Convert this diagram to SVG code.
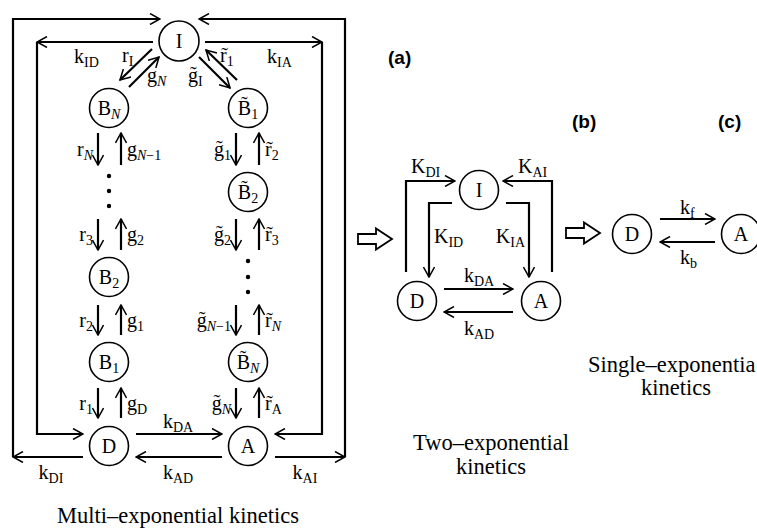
<svg xmlns="http://www.w3.org/2000/svg" width="757" height="529" viewBox="0 0 757 529">
<defs>
<marker id="ah" viewBox="0 0 12 12" markerWidth="12" markerHeight="12" refX="11" refY="6" markerUnits="userSpaceOnUse" orient="auto">
<path d="M1,0.5 L11,6 L1,11.5" fill="none" stroke="#000" stroke-width="1.5"/>
</marker>
<style>
.ln{fill:none;stroke:#000;stroke-width:2.2;marker-end:url(#ah)}
.nd{fill:#fff;stroke:#000;stroke-width:1.6}
.t{font-family:"Liberation Serif","Times New Roman",serif;font-size:20px;fill:#000}
.m{text-anchor:middle}
.e{text-anchor:end}
.s{font-size:14px}
.i{font-style:italic}
.cap{font-family:"Liberation Serif","Times New Roman",serif;font-size:22.5px;fill:#000}
.lab{font-family:"Liberation Sans",Arial,sans-serif;font-weight:bold;font-size:19px;fill:#000}
.hol{fill:#fff;stroke:#000;stroke-width:1.8}
.dot{fill:#000}
</style>
</defs>
<rect width="757" height="529" fill="#fff"/>

<g id="connectors">
<!-- part a frames -->
<path class="ln" d="M83,457 H13"/>
<path class="ln" d="M13,457 V19 H160"/>
<path class="ln" d="M275,457 H345"/>
<path class="ln" d="M345,457 V19 H199"/>
<path class="ln" d="M153,42 H37"/>
<path class="ln" d="M37,42 V434 H83"/>
<path class="ln" d="M205,42 H322"/>
<path class="ln" d="M322,42 V434 H275"/>
<path class="ln" d="M136,434 H222"/>
<path class="ln" d="M222,457 H136"/>
<!-- diagonals -->
<path class="ln" d="M152,49 L120,80"/>
<path class="ln" d="M129,87 L159,57"/>
<path class="ln" d="M199,57 L230,88"/>
<path class="ln" d="M237,80 L206,50"/>
<!-- left column -->
<path class="ln" d="M98,133 V165"/>
<path class="ln" d="M121,165 V133"/>
<path class="ln" d="M98,219 V250"/>
<path class="ln" d="M121,250 V219"/>
<path class="ln" d="M98,305 V335"/>
<path class="ln" d="M121,335 V305"/>
<path class="ln" d="M98,388 V418"/>
<path class="ln" d="M121,418 V388"/>
<!-- right column -->
<path class="ln" d="M236,133 V165"/>
<path class="ln" d="M259,165 V133"/>
<path class="ln" d="M236,219 V250"/>
<path class="ln" d="M259,250 V219"/>
<path class="ln" d="M236,305 V335"/>
<path class="ln" d="M259,335 V305"/>
<path class="ln" d="M236,388 V418"/>
<path class="ln" d="M259,418 V388"/>
<!-- part b -->
<path class="ln" d="M406,272 V181 H455"/>
<path class="ln" d="M552,272 V181 H503"/>
<path class="ln" d="M452,203 H429 V277"/>
<path class="ln" d="M506,203 H529 V277"/>
<path class="ln" d="M444,289 H513"/>
<path class="ln" d="M513,312 H444"/>
<!-- part c -->
<path class="ln" d="M660,219 H715"/>
<path class="ln" d="M715,242 H660"/>
</g>

<g id="dots">
<circle class="dot" cx="109" cy="176" r="2.2"/>
<circle class="dot" cx="109" cy="191" r="2.2"/>
<circle class="dot" cx="109" cy="206" r="2.2"/>
<circle class="dot" cx="248" cy="261" r="2.2"/>
<circle class="dot" cx="248" cy="277" r="2.2"/>
<circle class="dot" cx="248" cy="292" r="2.2"/>
</g>

<g id="node-a-I"><circle class="nd" cx="179" cy="41" r="20"/><text class="t m" x="179" y="48">I</text></g>
<g id="node-a-BN"><circle class="nd" cx="109" cy="108" r="19.5"/><text class="t m" x="109" y="115">B<tspan class="s i" dy="4">N</tspan></text></g>
<g id="node-a-B2"><circle class="nd" cx="109" cy="277" r="19.5"/><text class="t m" x="109" y="284">B<tspan class="s" dy="4">2</tspan></text></g>
<g id="node-a-B1"><circle class="nd" cx="109" cy="362" r="19.5"/><text class="t m" x="109" y="369">B<tspan class="s" dy="4">1</tspan></text></g>
<g id="node-a-D"><circle class="nd" cx="109" cy="446" r="19.5"/><text class="t m" x="109" y="453">D</text></g>
<g id="node-a-Bt1"><circle class="nd" cx="248" cy="108" r="19.5"/><text class="t m" x="248" y="115">B&#x303;<tspan class="s" dy="4">1</tspan></text></g>
<g id="node-a-Bt2"><circle class="nd" cx="248" cy="192" r="19.5"/><text class="t m" x="248" y="199">B&#x303;<tspan class="s" dy="4">2</tspan></text></g>
<g id="node-a-BtN"><circle class="nd" cx="248" cy="362" r="19.5"/><text class="t m" x="248" y="369">B&#x303;<tspan class="s i" dy="4">N</tspan></text></g>
<g id="node-a-A"><circle class="nd" cx="248" cy="446" r="19.5"/><text class="t m" x="248" y="453">A</text></g>

<g id="labels-a">
<text class="t" x="74" y="63">k<tspan class="s" dy="4">ID</tspan></text>
<text class="t" x="267" y="63">k<tspan class="s" dy="4">IA</tspan></text>
<text class="t" x="122" y="62">r<tspan class="s" dy="4">I</tspan></text>
<text class="t" x="147" y="82">g<tspan class="s i" dy="4">N</tspan></text>
<text class="t" x="188" y="82">g&#x303;<tspan class="s" dy="4">I</tspan></text>
<text class="t" x="220" y="62">r&#x303;<tspan class="s" dy="4">1</tspan></text>

<text class="t e" x="93" y="156">r<tspan class="s i" dy="4">N</tspan></text>
<text class="t" x="127" y="156">g<tspan class="s" dy="4"><tspan class="i">N</tspan>−1</tspan></text>
<text class="t e" x="231" y="156">g&#x303;<tspan class="s" dy="4">1</tspan></text>
<text class="t" x="265" y="156">r&#x303;<tspan class="s" dy="4">2</tspan></text>

<text class="t e" x="93" y="241">r<tspan class="s" dy="4">3</tspan></text>
<text class="t" x="127" y="241">g<tspan class="s" dy="4">2</tspan></text>
<text class="t e" x="231" y="241">g&#x303;<tspan class="s" dy="4">2</tspan></text>
<text class="t" x="265" y="241">r&#x303;<tspan class="s" dy="4">3</tspan></text>

<text class="t e" x="93" y="327">r<tspan class="s" dy="4">2</tspan></text>
<text class="t" x="127" y="327">g<tspan class="s" dy="4">1</tspan></text>
<text class="t e" x="231" y="327">g&#x303;<tspan class="s" dy="4"><tspan class="i">N</tspan>−1</tspan></text>
<text class="t" x="265" y="327">r&#x303;<tspan class="s i" dy="4">N</tspan></text>

<text class="t e" x="93" y="410">r<tspan class="s" dy="4">1</tspan></text>
<text class="t" x="127" y="410">g<tspan class="s" dy="4">D</tspan></text>
<text class="t e" x="231" y="410">g&#x303;<tspan class="s i" dy="4">N</tspan></text>
<text class="t" x="265" y="410">r&#x303;<tspan class="s" dy="4">A</tspan></text>

<text class="t m" x="178" y="428">k<tspan class="s" dy="4">DA</tspan></text>
<text class="t m" x="51" y="479">k<tspan class="s" dy="4">DI</tspan></text>
<text class="t m" x="178" y="479">k<tspan class="s" dy="4">AD</tspan></text>
<text class="t m" x="305" y="479">k<tspan class="s" dy="4">AI</tspan></text>
<text class="cap" x="178" y="523" text-anchor="middle">Multi–exponential kinetics</text>
</g>

<g id="panel-labels">
<text class="lab" x="388" y="64">(a)</text>
<text class="lab" x="572" y="128">(b)</text>
<text class="lab" x="718" y="128">(c)</text>
</g>

<g id="hollow-arrows">
<polygon class="hol" points="358,234 376,234 376,228.5 392,239 376,249.5 376,244 358,244"/>
<polygon class="hol" points="566,228 584,228 584,222.5 600,233 584,243.5 584,238 566,238"/>
</g>

<g id="node-b-I"><circle class="nd" cx="479" cy="190" r="19.5"/><text class="t m" x="479" y="197">I</text></g>
<g id="node-b-D"><circle class="nd" cx="417" cy="301" r="19.5"/><text class="t m" x="417" y="308">D</text></g>
<g id="node-b-A"><circle class="nd" cx="541" cy="301" r="19.5"/><text class="t m" x="541" y="308">A</text></g>

<g id="labels-b">
<text class="t" x="411" y="173">K<tspan class="s" dy="4">DI</tspan></text>
<text class="t" x="518" y="173">K<tspan class="s" dy="4">AI</tspan></text>
<text class="t" x="434" y="243">K<tspan class="s" dy="4">ID</tspan></text>
<text class="t e" x="525" y="243">K<tspan class="s" dy="4">IA</tspan></text>
<text class="t m" x="479" y="282">k<tspan class="s" dy="4">DA</tspan></text>
<text class="t m" x="479" y="335">k<tspan class="s" dy="4">AD</tspan></text>
<text class="cap" x="491" y="450" text-anchor="middle">Two–exponential</text>
<text class="cap" x="491" y="474" text-anchor="middle">kinetics</text>
</g>

<g id="node-c-D"><circle class="nd" cx="632" cy="234" r="19.5"/><text class="t m" x="632" y="241">D</text></g>
<g id="node-c-A"><circle class="nd" cx="741" cy="234" r="19.5"/><text class="t m" x="741" y="241">A</text></g>

<g id="labels-c">
<text class="t" x="680" y="214">k<tspan class="s" dy="4">f</tspan></text>
<text class="t" x="680" y="264">k<tspan class="s" dy="4">b</tspan></text>
<text class="cap" x="588" y="372">Single–exponentia</text>
<text class="cap" x="676" y="395" text-anchor="middle">kinetics</text>
</g>
</svg>
